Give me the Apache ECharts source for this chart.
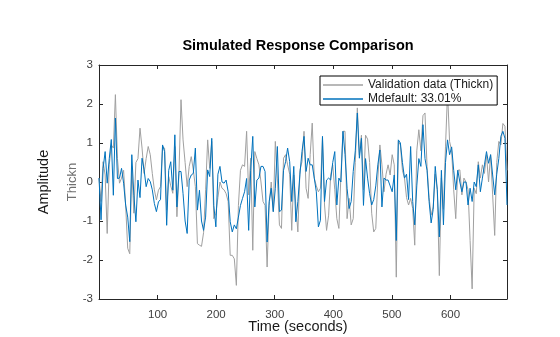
<!DOCTYPE html>
<html>
<head>
<meta charset="utf-8">
<script src="https://cdn.jsdelivr.net/npm/echarts@6/dist/echarts.min.js"></script>
<style>
html,body{margin:0;padding:0;background:#fff;}
#chart{width:560px;height:337px;}
</style>
</head>
<body>
<div id="chart"></div>
<script>
// ---- data ----
const titleText = 'Simulated Response Comparison';
const xLabel = 'Time (seconds)';
const yLabel = 'Amplitude';
const channelName = 'Thickn';
const seriesNames = ['Validation data (Thickn)', 'Mdefault: 33.01%'];
const sampleTime = 3.5; // seconds between samples
const xTicks = [100, 200, 300, 400, 500, 600];
const yTicks = [-3, -2, -1, 0, 1, 2, 3];

const validation = [
  0.1, -0.5, 0.52, 0.18, -1.32, 0.44, 0.95, 0.87, 2.24, 0.6,
  -0.03, 0.1, 0.3, -0.6, -1.7, -1.84, 0.4, -0.8, 0.5, 0.6,
  1.38, 0.87, 0.22, 0.6, 0.91, 0.7, 0.22, -0.2, -0.46, -0.21,
  -0.12, 0.91, 0.87, -0.72, 0.14, -0.1, -0.29, 0.91, -0.89, 0.22,
  2.11, 1.08, 0.5, -0.12, 0.4, 0.65, 0.31, -0.12, -1.58, -1.62,
  -1.65, -1.3, -0.2, 1.08, 0.35, 1.04, -0.94, -0.8, -0.4, 0,
  -0.16, -0.2, -0.3, -0.5, -1.88, -1.88, -1.97, -2.65, -0.6, 0.3,
  0.44, 0.4, 1.3, -0.33, 0.61, -1.75, 0.78, 0.6, 0.44, 0,
  -0.5, -0.6, -2.18, -0.6, 0, -0.76, 1.04, 0.1, -1.1, -1.19,
  0.61, 0.7, 0.44, 0.2, -1.24, 0.18, -0.59, -1.28, 0.3, 0.52,
  1.3, -0.16, -0.42, 0.7, 1.51, 0.1, -0.1, -0.25, -0.16, 1.12,
  -0.59, -1.24, -0.85, 0.18, 0.44, -0.2, -0.94, -1.19, 0.18, 1.3,
  1.3, -0.94, -0.42, -1.1, -0.94, 0.5, 1.9, 0.7, 1.2, -0.2,
  1.2, 1.1, 0.5, -0.8, -1.28, -1.19, 0.1, 0.95, 0.44, -0.25,
  0.2, 0.44, 0.18, 0.7, 0.44, -2.44, 1.04, 0.95, 0.3, 0.1,
  -0.4, -0.59, -0.42, -0.68, -1.62, 0.8, 1.34, 0.8, 1.7, 1.77,
  0.4, -0.4, -0.85, -0.64, 0.2, -0.2, -2.4, 0.1, -0.7, 0.9,
  2.3, 1.04, 0.8, -0.2, -0.94, 0.3, 0.31, -0.33, 0.1, 0.0,
  -0.2, -1.5, -2.74, -0.16, -0.3, 0.52, 0.1, 0.44, 0.22, 0.7,
  0.0, 0.7, -0.33, -1.37, 0.5, 1.04, 0.95, 1.5, 1.43, 0.3
];

const model = [
  0.1, -0.97, 0.35, 0.78, -0.03, 0.6, 1.09, -0.34, 1.64, 0.09,
  0.1, 0.35, -0.03, -0.59, -0.9, -1.53, 0.7, -0.34, -1.02, 0.05,
  -0.4, 0.61, 0.31, -0.12, 0.09, 0.01, -0.2, -0.55, -0.76, -0.51,
  -0.45, 0.95, 0.78, -1.11, 0.3, 0.52, -0.21, 1.21, -0.64, 0.27,
  0.27, -0.3, -1.0, -1.32, 0.05, 0.18, 0.22, 0.87, -0.72, -0.21,
  -1.0, -1.24, -0.9, 0.31, 0.14, 1.12, -0.6, -1.15, 0.2, 0.4,
  0, -0.03, 0.05, -0.25, -1.02, -1.28, -1.1, -1.2, -0.9, -0.6,
  -0.42, -0.25, 0.09, -1.24, 0.3, 1.17, -0.64, 0.05, 0.1, 0.4,
  0.4, 0.27, -1.54, -0.5, -0.16, -0.76, -0.16, 0.91, -0.76, -0.72,
  0.3, 0.52, 0.87, 0.52, -0.5, 0.4, -1.02, -0.5, 0.2, 0.78,
  1.17, 0.27, 0.61, 0.44, 0.44, 0.1, -0.25, -1.15, -0.98, 1.17,
  -0.5, 0.05, 0.1, 0.05, 0.5, 0.78, -0.59, 0.1, 0, 1.3,
  0.7, -0.16, -0.68, -0.5, 0.27, 0.8, 1.77, 0.61, 1.12, -0.6,
  0.6, 0.1, -0.3, -0.59, -0.45, -0.1, 0.44, 0.82, -0.64, 0.1,
  0.05, 0.05, -0.1, -0.25, 0.18, -1.5, 1.08, 1.0, 0.5, 0.1,
  0.2, -0.45, 0.91, -0.5, -1.1, -0.1, 0.6, 0.4, 1.47, 0.6,
  0.3, -0.5, -1.05, -0.7, 0.4, -0.2, -1.41, 0.3, -1.1, 0.5,
  1.08, 0.7, 0.9, 0.3, -0.2, 0.3, 0.0, -0.25, 0.0, 0.0,
  -0.59, -0.16, -0.5, 0.0, -0.12, 0.44, -0.25, 0.1, 0.44, 0.78,
  0.48, 0.7, 0.18, -0.33, 0.2, 0.6, 1.17, 1.3, 1.12, -0.59
];

// ---- chart ----
const time = validation.map((_, i) => i * sampleTime);
const xMax = time[time.length - 1];
const toPairs = vals => vals.map((v, i) => [time[i], v]);

const axisColor = '#262626';
const labelColor = '#404040';
const FONT = 'Liberation Sans, Arial, Helvetica, sans-serif';

const chart = echarts.init(document.getElementById('chart'), null, {renderer: 'canvas'});

const xTickFmt = v => (xTicks.indexOf(v) >= 0 ? String(v) : '');
const yTickFmt = v => (yTicks.indexOf(v) >= 0 ? String(v) : '');

const baseX = {
  type: 'value', min: 0, max: xMax, interval: 100,
  axisLine: {show: true, onZero: false, lineStyle: {color: axisColor, width: 1}},
  axisTick: {show: true, inside: true, length: 4, lineStyle: {color: axisColor, width: 1}},
  splitLine: {show: false}
};
const baseY = {
  type: 'value', min: -3, max: 3, interval: 1,
  axisLine: {show: true, onZero: false, lineStyle: {color: axisColor, width: 1}},
  axisTick: {show: true, inside: true, length: 4, lineStyle: {color: axisColor, width: 1}},
  splitLine: {show: false}
};

chart.setOption({
  animation: false,
  backgroundColor: '#ffffff',
  grid: {left: 99, top: 65, right: 53, bottom: 38, containLabel: false},
  xAxis: [
    Object.assign({}, baseX, {
      position: 'bottom',
      axisLabel: {show: true, margin: 10, color: labelColor, fontSize: 11.5, fontFamily: FONT,
        formatter: xTickFmt, showMinLabel: false, showMaxLabel: false}
    }),
    Object.assign({}, baseX, {position: 'top', axisLabel: {show: false}})
  ],
  yAxis: [
    Object.assign({}, baseY, {
      position: 'left',
      axisLabel: {show: true, margin: 6, color: labelColor, fontSize: 11.5, fontFamily: FONT,
        formatter: yTickFmt}
    }),
    Object.assign({}, baseY, {position: 'right', axisLabel: {show: false}})
  ],
  legend: {
    orient: 'vertical',
    left: 320, top: 76,
    padding: [3, 4, 0, 3],
    itemGap: 2,
    itemWidth: 40,
    itemHeight: 1.5,
    icon: 'rect',
    backgroundColor: '#ffffff',
    borderColor: '#000000',
    borderWidth: 1,
    borderRadius: 0,
    textStyle: {color: '#1a1a1a', fontSize: 12, fontFamily: FONT, lineHeight: 12},
    data: seriesNames
  },
  series: [
    {
      name: seriesNames[0], type: 'line', data: toPairs(validation),
      showSymbol: false, symbol: 'none', z: 2,
      lineStyle: {color: '#a0a0a0', width: 1},
      itemStyle: {color: '#a0a0a0'}
    },
    {
      name: seriesNames[1], type: 'line', data: toPairs(model),
      showSymbol: false, symbol: 'none', z: 3,
      lineStyle: {color: '#0072BD', width: 1},
      itemStyle: {color: '#0072BD'}
    }
  ],
  graphic: [
    {type: 'text', x: 298, y: 46, style: {text: titleText, fill: '#000', font: 'bold 14.5px ' + FONT, textAlign: 'center', textVerticalAlign: 'middle'}},
    {type: 'text', x: 298, y: 327, style: {text: xLabel, fill: '#1a1a1a', font: '14.5px ' + FONT, textAlign: 'center', textVerticalAlign: 'middle'}},
    {type: 'text', x: 44, y: 182, rotation: Math.PI / 2, style: {text: yLabel, fill: '#1a1a1a', font: '14.5px ' + FONT, textAlign: 'center', textVerticalAlign: 'middle'}},
    {type: 'text', x: 72, y: 182, rotation: Math.PI / 2, style: {text: channelName, fill: '#707070', font: '13px ' + FONT, textAlign: 'center', textVerticalAlign: 'middle'}}
  ]
});
</script>
</body>
</html>
